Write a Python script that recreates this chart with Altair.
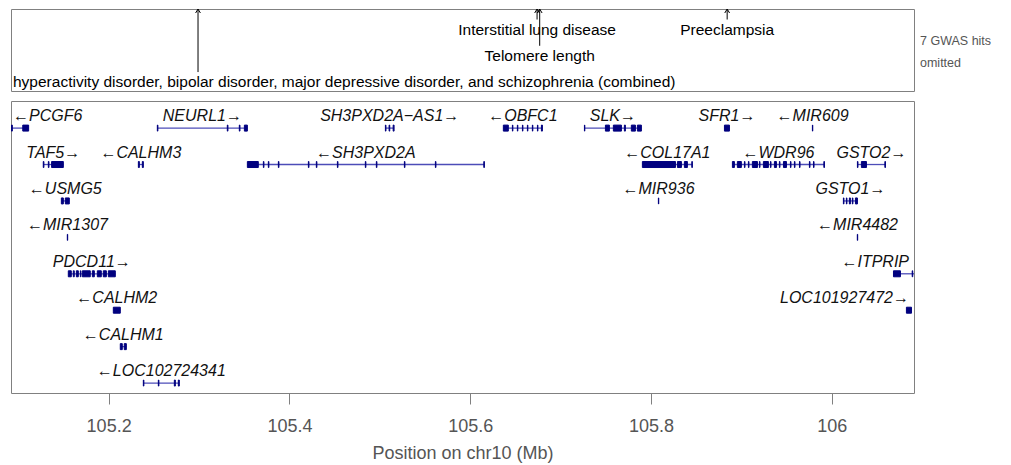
import altair as alt
import pandas as pd

# ---------------- data ----------------
X_MIN, X_MAX = 105.092, 106.091

# GWAS hits (top panel)
hit_trait = [
    "Interstitial lung disease",
    "Telomere length",
    "Preeclampsia",
    "hyperactivity disorder, bipolar disorder, major depressive disorder, and schizophrenia (combined)",
]
hit_pos = [105.6740, 105.6769, 105.8843, 105.2989]
hit_level = [1, 2, 1, 3]
hit_anchor = ["center", "center", "center", "left"]
note_lines = ["7 GWAS hits", "omitted"]

# genes
gene_name = ["PCGF6", "NEURL1", "SH3PXD2A\u2212AS1", "OBFC1", "SLK", "SFR1", "MIR609",
             "TAF5", "CALHM3", "SH3PXD2A", "COL17A1", "WDR96", "GSTO2",
             "USMG5", "MIR936", "GSTO1",
             "MIR1307", "MIR4482",
             "PDCD11", "ITPRIP",
             "CALHM2", "LOC101927472",
             "CALHM1",
             "LOC102724341"]
gene_row = [1, 1, 1, 1, 1, 1, 1,
            2, 2, 2, 2, 2, 2,
            3, 3, 3,
            4, 4,
            5, 5,
            6, 6,
            7,
            8]
gene_start = [105.0925, 105.2539, 105.5062, 105.6367, 105.7264, 105.8813, 105.9786,
              105.1277, 105.2329, 105.3535, 105.7905, 105.8901, 106.0284,
              105.1477, 105.8082, 106.0129,
              105.1543, 106.0283,
              105.1554, 106.0683,
              105.2052, 106.0826,
              105.2129,
              105.2384]
gene_end = [105.1115, 105.3535, 105.5158, 105.6799, 105.7894, 105.8868, 105.9790,
            105.1499, 105.2384, 105.6157, 105.8458, 105.9919, 106.0594,
            105.1565, 105.8086, 106.0284,
            105.1547, 106.0287,
            105.2074, 106.1000,
            105.2129, 106.0882,
            105.2196,
            105.2782]
gene_strand = ["-", "+", "+", "-", "+", "+", "-",
               "+", "-", "-", "-", "-", "+",
               "-", "-", "+",
               "-", "-",
               "+", "-",
               "-", "+",
               "-",
               "-"]
gene_anchor = ["left", "center", "center", "center", "center", "center", "center",
               "center", "center", "center", "center", "center", "center",
               "center", "center", "center",
               "center", "center",
               "center", "right",
               "center", "right",
               "center",
               "center"]

exon_gene = (["PCGF6"] * 2 + ["NEURL1"] * 4 + ["SH3PXD2A\u2212AS1"] * 3 + ["OBFC1"] * 8
             + ["SLK"] * 6 + ["SFR1"] + ["MIR609"]
             + ["TAF5"] * 3 + ["CALHM3"] * 2 + ["SH3PXD2A"] * 12 + ["COL17A1"] * 4
             + ["WDR96"] * 17 + ["GSTO2"] * 3
             + ["USMG5"] * 2 + ["MIR936"] + ["GSTO1"] * 5
             + ["MIR1307"] + ["MIR4482"]
             + ["PDCD11"] * 9 + ["ITPRIP"] * 2
             + ["CALHM2"] + ["LOC101927472"]
             + ["CALHM1"] * 2
             + ["LOC102724341"] * 4)
exon_start = [105.0925, 105.1050,
              105.2539, 105.3313, 105.3446, 105.3502,
              105.5062, 105.5103, 105.5148,
              105.6367, 105.6467, 105.6522, 105.6578, 105.6633, 105.6688, 105.6744, 105.6788,
              105.7264, 105.7496, 105.7584, 105.7706, 105.7783, 105.7850,
              105.8813,
              105.9786,
              105.1277, 105.1333, 105.1369,
              105.2329, 105.2373,
              105.3535, 105.3712, 105.3767, 105.3878, 105.4210, 105.4298, 105.4531, 105.4840,
              105.4962, 105.5272, 105.5615, 105.6151,
              105.7905, 105.8293, 105.8370, 105.8452,
              105.8901, 105.8956, 105.9034, 105.9078, 105.9122, 105.9200, 105.9244, 105.9322,
              105.9366, 105.9421, 105.9466, 105.9543, 105.9587, 105.9643, 105.9753, 105.9798,
              105.9913,
              106.0284, 106.0328, 106.0588,
              105.1477, 105.1521,
              105.8082,
              106.0129, 106.0162, 106.0195, 106.0228, 106.0262,
              105.1543,
              106.0283,
              105.1554, 105.1609, 105.1643, 105.1687, 105.1709, 105.1820, 105.1875, 105.1941,
              105.1997,
              106.0683, 106.0890,
              105.2052,
              106.0826,
              105.2129, 105.2173,
              105.2384, 105.2550, 105.2727, 105.2771]
exon_end = [105.0935, 105.1115,
            105.2545, 105.3320, 105.3453, 105.3535,
            105.5068, 105.5110, 105.5158,
            105.6422, 105.6472, 105.6527, 105.6583, 105.6638, 105.6693, 105.6749, 105.6799,
            105.7268, 105.7540, 105.7673, 105.7717, 105.7828, 105.7894,
            105.8868,
            105.9790,
            105.1284, 105.1340, 105.1499,
            105.2340, 105.2384,
            105.3656, 105.3718, 105.3773, 105.3884, 105.4216, 105.4304, 105.4537, 105.4846,
            105.4968, 105.5278, 105.5621, 105.6157,
            105.8271, 105.8337, 105.8403, 105.8458,
            105.8923, 105.9000, 105.9040, 105.9084, 105.9178, 105.9206, 105.9299, 105.9328,
            105.9388, 105.9427, 105.9499, 105.9549, 105.9593, 105.9649, 105.9759, 105.9804,
            105.9919,
            106.0290, 106.0384, 106.0594,
            105.1499, 105.1565,
            105.8086,
            106.0135, 106.0168, 106.0206, 106.0234, 106.0284,
            105.1547,
            106.0287,
            105.1587, 105.1620, 105.1665, 105.1693, 105.1797, 105.1842, 105.1919, 105.1975,
            105.2074,
            106.0760, 106.0896,
            105.2129,
            106.0882,
            105.2151, 105.2196,
            105.2390, 105.2556, 105.2738, 105.2782]

TICKS = [105.2, 105.4, 105.6, 105.8, 106.0]

# ---------------- tables ----------------
hits = pd.DataFrame({"trait": hit_trait, "pos": hit_pos, "level": hit_level,
                     "anchor": hit_anchor})
hits["label_x"] = [X_MIN if a == "left" else p for a, p in zip(hit_anchor, hit_pos)]

genes = pd.DataFrame({"name": gene_name, "row": gene_row, "start": gene_start,
                      "end": gene_end, "strand": gene_strand, "anchor": gene_anchor})
genes["label"] = ["\u2190" + n if s == "-" else n + "\u2192"
                  for n, s in zip(gene_name, gene_strand)]
genes["label_x"] = [X_MIN if a == "left" else (X_MAX if a == "right" else (s + e) / 2)
                    for a, s, e in zip(gene_anchor, gene_start, gene_end)]

exons = pd.DataFrame({"name": exon_gene, "start": exon_start, "end": exon_end})
exons = exons.merge(genes[["name", "row"]], on="name", how="left")

FONT = "Liberation Sans"
xs = alt.Scale(domain=[X_MIN, X_MAX], nice=False, zero=False)

# ---------------- top GWAS panel ----------------
ys_top = alt.Scale(domain=[0.219, 3.34], reverse=True, nice=False, zero=False)
tb = alt.Chart(hits)
arrows = tb.mark_rule(color="black", strokeWidth=1, yOffset=-10).encode(
    x=alt.X("pos:Q", scale=xs, axis=None),
    y=alt.Y("level:Q", scale=ys_top, axis=None),
    y2=alt.value(0),
)
heads = tb.mark_point(shape="M-0.6,1L0,0L0.6,1", filled=False, size=64,
                      color="black", strokeWidth=1, opacity=1).encode(
    x=alt.X("pos:Q", scale=xs, axis=None),
    y=alt.value(0),
)
hit_center = tb.transform_filter("datum.anchor == 'center'").mark_text(
    font=FONT, fontSize=15.5, color="black", baseline="middle", align="center").encode(
    x=alt.X("label_x:Q", scale=xs, axis=None),
    y=alt.Y("level:Q", scale=ys_top, axis=None),
    text="trait:N",
)
hit_left = tb.transform_filter("datum.anchor == 'left'").mark_text(
    font=FONT, fontSize=15.5, color="black", baseline="middle", align="left", dx=2).encode(
    x=alt.X("label_x:Q", scale=xs, axis=None),
    y=alt.Y("level:Q", scale=ys_top, axis=None),
    text="trait:N",
)
notes = [
    alt.Chart(pd.DataFrame({"t": [line]})).mark_text(
        font=FONT, fontSize=12.5, color="#555555", align="left", baseline="middle").encode(
        x=alt.value(909), y=alt.value(31.5 + 22 * i), text="t:N")
    for i, line in enumerate(note_lines)
]
top = alt.layer(arrows, heads, hit_center, hit_left, *notes).properties(width=903, height=82)

# ---------------- gene panel ----------------
ys_gene = alt.Scale(domain=[0.256, 8.273], reverse=True, nice=False, zero=False)
xaxis = alt.Axis(values=TICKS, format="~g", grid=False, domain=False,
                 tickColor="#808080", tickSize=11, tickWidth=1,
                 labelFont=FONT, labelFontSize=18, labelColor="#555555", labelPadding=13,
                 title="Position on chr10 (Mb)", titleFont=FONT, titleFontSize=18,
                 titleColor="#555555", titleFontWeight="normal", titlePadding=9)

introns = alt.Chart(genes).mark_rule(color="#4d4db8", strokeWidth=1.3, clip=True).encode(
    x=alt.X("start:Q", scale=xs, axis=xaxis),
    x2="end:Q",
    y=alt.Y("row:Q", scale=ys_gene, axis=None),
)
exon_marks = alt.Chart(exons).mark_rect(color="#00007f", stroke="#00007f", strokeWidth=1,
                                        clip=True, yOffset=-3, y2Offset=3).encode(
    x=alt.X("start:Q", scale=xs),
    x2="end:Q",
    y=alt.Y("row:Q", scale=ys_gene, axis=None),
    y2="row:Q",
)


def gene_labels(anchor, align, dx):
    return alt.Chart(genes).transform_filter(f"datum.anchor == '{anchor}'").mark_text(
        font=FONT, fontSize=16, fontStyle="italic", color="#111111",
        baseline="middle", align=align, dx=dx, dy=-12).encode(
        x=alt.X("label_x:Q", scale=xs),
        y=alt.Y("row:Q", scale=ys_gene, axis=None),
        text="label:N",
    )


gene_panel = alt.layer(
    introns, exon_marks,
    gene_labels("center", "center", 0),
    gene_labels("left", "left", 2),
    gene_labels("right", "right", -5),
).properties(width=903, height=292)

chart = alt.vconcat(top, gene_panel, spacing=8).properties(
    padding={"left": 10, "top": 6, "right": 5, "bottom": 5},
    background="white",
).configure_view(stroke="#808080", strokeWidth=1)

chart.save("out.html", embed_options={"renderer": "svg", "actions": False})
